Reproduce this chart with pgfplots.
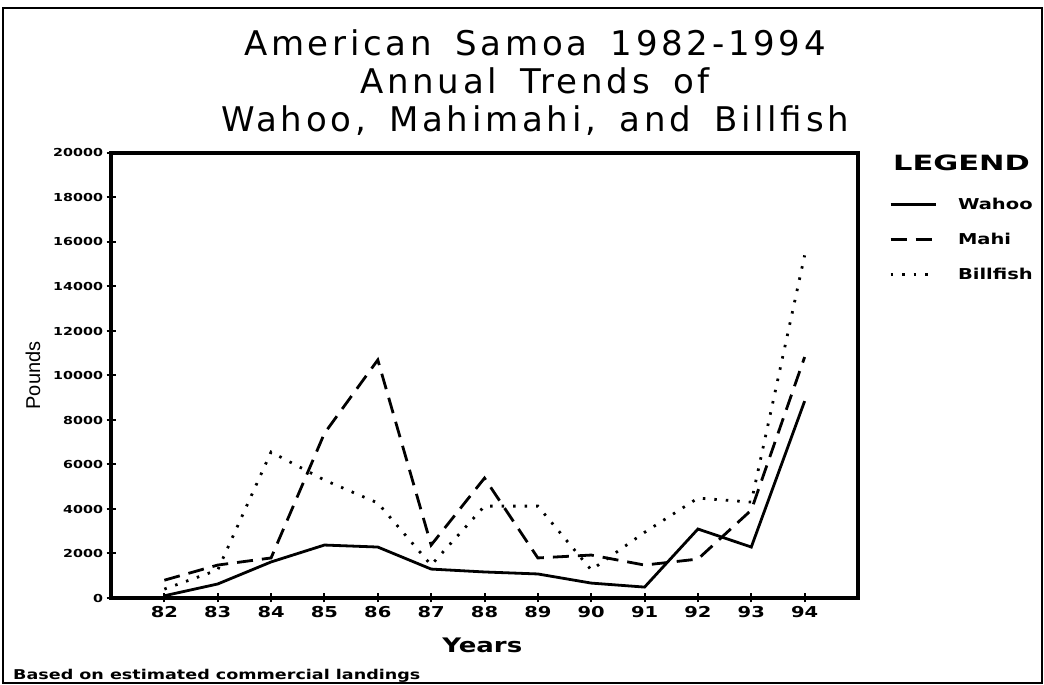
\documentclass[border=0pt]{standalone}
\usepackage{pgfplots}
\pgfplotsset{compat=1.18}
\usepackage{fontspec}
\setmainfont{DejaVu Sans}
\newfontfamily\titlefont[LetterSpace=11, WordSpace=1.6]{DejaVu Sans}
\newfontfamily\widebold[FakeStretch=1.3]{DejaVu Sans Bold}
\newfontfamily\widerbold[FakeStretch=1.45]{DejaVu Sans Bold}
\newfontfamily\poundsfont{Liberation Sans}

\pgfplotstableread{
year wahoo mahi billfish
82 100 800 400
83 630 1480 1260
84 1620 1800 6560
85 2380 7400 5300
86 2290 10700 4270
87 1300 2380 1480
88 1170 5390 4130
89 1080 1800 4130
90 670 1930 1260
91 490 1480 2950
92 3100 1750 4490
93 2290 3950 4310
94 8850 10830 15400
}\datatable

\begin{document}
\begin{tikzpicture}[x=1pt,y=1pt]
\path[use as bounding box] (0,0) rectangle (1044,685);
\draw[line width=2.5pt] (3,2) rectangle (1042,677);
\node[align=center, font=\titlefont\fontsize{34}{38}\selectfont] at (535,602)
  {American Samoa 1982-1994\\Annual Trends of\\Wahoo, Mahimahi, and Billfish};
\node[anchor=west, font=\widebold\fontsize{13.5}{15}\selectfont, inner sep=0pt] at (13,9)
  {Based on estimated commercial landings};
\node[anchor=west, font=\widerbold\fontsize{21}{23}\selectfont, inner sep=0pt] at (893,522) {LEGEND};
\begin{axis}[
  at={(111pt,87pt)}, anchor=south west,
  scale only axis, width=747pt, height=445pt,
  xmin=81, xmax=95, ymin=0, ymax=20000,
  xtick={82,83,...,94}, ytick={0,2000,...,20000},
  xtick pos=bottom, ytick pos=left,
  scaled y ticks=false,
  axis line style={line width=3.5pt},
  major tick style={line width=2pt, black},
  tick align=center, major tick length=9pt,
  /pgf/number format/assume math mode=true,
  /pgf/number format/set thousands separator={},
  xticklabel style={font=\widebold\fontsize{15}{17}\selectfont},
  yticklabel style={font=\widebold\fontsize{11}{13}\selectfont},
  xlabel={Years}, ylabel={Pounds},
  xlabel style={font=\widebold\fontsize{20}{22}\selectfont, at={(axis description cs:0.497,-0.1056)}, anchor=center},
  ylabel style={font=\poundsfont\fontsize{20}{22}\selectfont, at={(axis description cs:-0.1044,0.5)}, anchor=center},
  legend style={draw=none, fill=none, at={(axis description cs:1,1)}, anchor=north west,
    xshift=28pt, yshift=-42pt, row sep=20pt,
    font=\widebold\fontsize{15}{17}\selectfont,
    nodes={inner sep=1pt}},
  legend cell align=left,
  legend image code/.code={\draw[#1] (0pt,0pt) -- (45pt,0pt);},
  /tikz/every odd column/.append style={column sep=20pt},
]
\addplot[black, line width=2.8pt] table[x=year, y=wahoo] {\datatable};
\addlegendentry{Wahoo}
\addplot[black, line width=2.8pt, dash pattern=on 16pt off 9pt] table[x=year, y=mahi] {\datatable};
\addlegendentry{Mahi}
\addplot[black, line width=2.8pt, dash pattern=on 2.5pt off 9pt] table[x=year, y=billfish] {\datatable};
\addlegendentry{Billfish}
\end{axis}
\end{tikzpicture}
\end{document}
